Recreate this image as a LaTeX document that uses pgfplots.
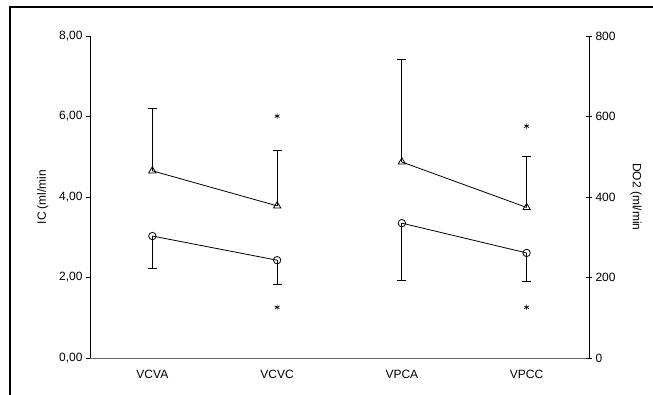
\documentclass[border=0pt]{standalone}
\usepackage{pgfplots}
\pgfplotsset{compat=1.18}
\usepackage{fontspec}
\setmainfont{Liberation Sans}
\begin{document}
\begin{tikzpicture}
\useasboundingbox (0pt,0pt) rectangle (653pt,394pt);
\draw[line width=1.2pt] (10pt,-5pt) -- (10pt,387pt) -- (660pt,387pt);
\pgfplotsset{
  common/.style={
    at={(90pt,36pt)}, anchor=south west, scale only axis,
    width=499pt, height=322pt, xmin=-0.5, xmax=3.5,
    tick label style={font=\fontsize{12}{14}\selectfont},
    label style={font=\fontsize{12}{14}\selectfont},
    /pgf/number format/assume math mode=true,
    axis line style={line width=0.8pt},
    major tick length=4pt,
    tick style={line width=0.8pt, black},
  }
}
\begin{axis}[common,
  ymin=0, ymax=8,
  axis y line*=left, axis x line*=bottom,
  xtick={0,1,2,3}, xticklabels={VCVA,VCVC,VPCA,VPCC},
  x tick style={draw=none},
  xticklabel style={yshift=-5pt},
  ytick={0,2,4,6,8}, tick align=outside,
  yticklabel style={/pgf/number format/.cd, fixed, fixed zerofill, precision=2, use comma},
  ylabel={IC (ml/min},
  ylabel style={yshift=4pt},
  x axis line style={draw=black!60},
]
\addplot[black, line width=0.8pt, mark=o, mark size=3.7pt, mark options={fill=white, line width=0.8pt},
  error bars/.cd, y dir=minus, y explicit,
  error bar style={line width=0.8pt},
  error mark options={rotate=90, mark size=4.5pt, line width=0.8pt}]
  table[y error minus=e] {
  x y e
  0 3.03 0.80
  1 2.43 0.59
};
\addplot[black, line width=0.8pt, mark=o, mark size=3.7pt, mark options={fill=white, line width=0.8pt},
  error bars/.cd, y dir=minus, y explicit,
  error bar style={line width=0.8pt},
  error mark options={rotate=90, mark size=4.5pt, line width=0.8pt}]
  table[y error minus=e] {
  x y e
  2 3.35 1.41
  3 2.61 0.70
};
\addplot[only marks, mark=asterisk, mark size=2.7pt, black, mark options={line width=0.7pt}]
  coordinates {(1,1.26) (3,1.26)};
\end{axis}
\begin{axis}[common,
  ymin=0, ymax=800,
  axis y line*=right, axis x line=none,
  ytick={0,200,400,600,800}, tick align=center, major tick length=6pt,
  ylabel={DO2 (ml/min},
  ylabel style={rotate=180, yshift=8pt},
]
\addplot[black, line width=0.8pt, mark=triangle, mark size=4.2pt, mark options={fill=white, line width=0.8pt},
  error bars/.cd, y dir=plus, y explicit,
  error bar style={line width=0.8pt},
  error mark options={rotate=90, mark size=4.5pt, line width=0.8pt}]
  table[y error plus=e] {
  x y e
  0 465 154
  1 378 137
};
\addplot[black, line width=0.8pt, mark=triangle, mark size=4.2pt, mark options={fill=white, line width=0.8pt},
  error bars/.cd, y dir=plus, y explicit,
  error bar style={line width=0.8pt},
  error mark options={rotate=90, mark size=4.5pt, line width=0.8pt}]
  table[y error plus=e] {
  x y e
  2 487 256
  3 374 128
};
\addplot[only marks, mark=asterisk, mark size=2.7pt, black, mark options={line width=0.7pt}]
  coordinates {(1,601) (3,576)};
\end{axis}
\end{tikzpicture}
\end{document}
